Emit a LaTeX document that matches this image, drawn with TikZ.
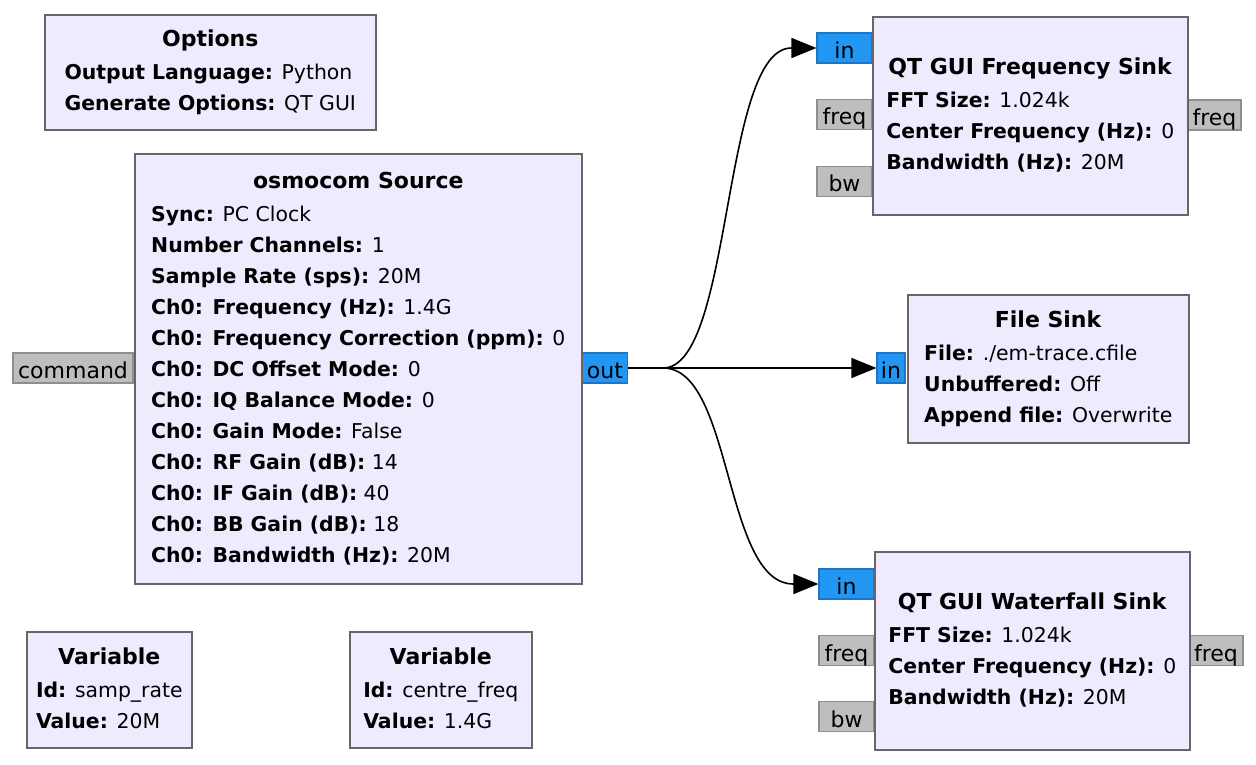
\documentclass[tikz,border=0pt]{standalone}
\usepackage{fontspec}
\setmainfont{DejaVu Sans}
\usepackage{tikz}
\usetikzlibrary{arrows.meta}
\usepackage{xcolor}
\definecolor{blockfill}{HTML}{F0EAFF}
\definecolor{blockline}{HTML}{666666}
\definecolor{portblue}{HTML}{2196F3}
\definecolor{portblueline}{HTML}{1F74C4}
\definecolor{portgray}{HTML}{BEBEBE}
\definecolor{portgrayline}{HTML}{8E8E8E}
\newcommand{\blk}[2]{\begin{tabular}{@{}l@{}}\multicolumn{1}{@{}c@{}}{\fontsize{22}{31}\selectfont\textbf{#1}}\\[2pt]#2\end{tabular}}

\begin{document}
\begin{tikzpicture}[x=1pt,y=-1pt,
        block/.style={draw=blockline,fill=blockfill,line width=1.6pt,anchor=north west,inner sep=0pt,font=\fontsize{20.4}{31}\selectfont},
        port/.style={line width=1.2pt,inner sep=0pt,minimum height=30pt,text height=21pt,text depth=0pt,font=\fontsize{22}{22}\selectfont},
        sport/.style={port,draw=portblueline,fill=portblue},
        mport/.style={port,draw=portgrayline,fill=portgray},
        flow/.style={line width=1.6pt,-{Triangle[length=25pt,width=20pt]}}]
        \useasboundingbox (0,0) rectangle (1256,765);
        % ports
        \node[mport,minimum width=120pt] (cmd) at (73,368) {command};
        \node[sport,minimum width=45pt] (out) at (605,368) {out};
        \node[sport,minimum width=55pt] (fin) at (844.5,48) {in};
        \node[mport,minimum width=55pt] (ffreq) at (844.5,114.5) {freq};
        \node[mport,minimum width=55pt] (fbw) at (844.5,181.5) {bw};
        \node[mport,minimum width=53pt] (ffreqout) at (1214.5,115) {freq};
        \node[sport,minimum width=28pt] (filein) at (891,368) {in};
        \node[sport,minimum width=55pt] (win) at (846.5,584) {in};
        \node[mport,minimum width=55pt] (wfreq) at (846.5,650.5) {freq};
        \node[mport,minimum width=55pt] (wbw) at (846.5,716.5) {bw};
        \node[mport,minimum width=54pt] (wfreqout) at (1216,650.5) {freq};
        % blocks
        \node[block,minimum width=331pt,minimum height=115pt] (opt) at (44,14)
            {\blk{Options}{\textbf{Output Language:} Python\\\textbf{Generate Options:} QT GUI}};
        \node[block,minimum width=447pt,minimum height=430pt] (src) at (134,153)
            {\blk{osmocom Source}{\textbf{Sync:} PC Clock\\
            \textbf{Number Channels:} 1\\
            \textbf{Sample Rate (sps):} 20M\\
            \textbf{Ch0: Frequency (Hz):} 1.4G\\
            \textbf{Ch0: Frequency Correction (ppm):} 0\\
            \textbf{Ch0: DC Offset Mode:} 0\\
            \textbf{Ch0: IQ Balance Mode:} 0\\
            \textbf{Ch0: Gain Mode:} False\\
            \textbf{Ch0: RF Gain (dB):} 14\\
            \textbf{Ch0: IF Gain (dB):} 40\\
            \textbf{Ch0: BB Gain (dB):} 18\\
            \textbf{Ch0: Bandwidth (Hz):} 20M}};
        \node[block,minimum width=315pt,minimum height=198pt] (fsink) at (872,16)
            {\blk{QT GUI Frequency Sink}{\textbf{FFT Size:} 1.024k\\\textbf{Center Frequency (Hz):} 0\\\textbf{Bandwidth (Hz):} 20M}};
        \node[block,minimum width=281pt,minimum height=148pt] (file) at (907,294)
            {\blk{File Sink}{\textbf{File:} ./em-trace.cfile\\\textbf{Unbuffered:} Off\\\textbf{Append file:} Overwrite}};
        \node[block,minimum width=315pt,minimum height=198pt] (wsink) at (874,551)
            {\blk{QT GUI Waterfall Sink}{\textbf{FFT Size:} 1.024k\\\textbf{Center Frequency (Hz):} 0\\\textbf{Bandwidth (Hz):} 20M}};
        \node[block,minimum width=165pt,minimum height=116pt] (var1) at (26,631)
            {\blk{Variable}{\textbf{Id:} samp\_rate\\\textbf{Value:} 20M}};
        \node[block,minimum width=182pt,minimum height=116pt] (var2) at (349,631)
            {\blk{Variable}{\textbf{Id:} centre\_freq\\\textbf{Value:} 1.4G}};
        % connections
        \draw[flow] (out.east) -- ++(35,0) .. controls +(70,0) and +(-70,0) .. ([xshift=-25pt]fin.west) -- (fin.west);
        \draw[flow] (out.east) -- (filein.west);
        \draw[flow] (out.east) -- ++(35,0) .. controls +(70,0) and +(-70,0) .. ([xshift=-25pt]win.west) -- (win.west);
\end{tikzpicture}
\end{document}
